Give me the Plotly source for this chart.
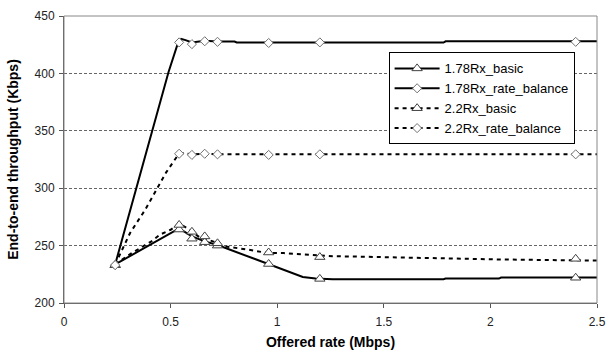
import plotly.graph_objects as go

# ---- data ----
series_names = ["1.78Rx_basic", "1.78Rx_rate_balance", "2.2Rx_basic", "2.2Rx_rate_balance"]

# marker points
marker_x = [0.24, 0.54, 0.60, 0.66, 0.72, 0.96, 1.20, 2.40]
m178_basic = [233, 264, 256, 253, 250, 234, 221, 222]
m178_rb = [233, 427, 425.5, 428, 427.5, 426.5, 427, 427.5]
m22_basic = [233, 268, 262, 258, 252, 244, 240, 238.5]
m22_rb = [233, 330, 329, 330, 329.5, 329, 329.5, 329.5]

# line curves
l178_basic_x = [0.24, 0.54, 0.60, 0.66, 0.72, 0.77, 0.95, 1.03, 1.12, 1.18, 1.26, 1.78, 1.79, 2.04, 2.05, 2.5]
l178_basic_y = [233.6, 265, 258, 253.7, 250.5, 247, 235, 229.3, 222.7, 221.3, 220.7, 220.7, 221.3, 221.3, 222.2, 222.2]

l178_rb_x = [0.24, 0.30, 0.36, 0.42, 0.49, 0.53, 0.55, 0.57, 0.60, 0.66, 0.72, 0.80, 0.81, 1.78, 1.79, 2.5]
l178_rb_y = [233.6, 274, 314, 354, 401, 424, 430, 429, 427, 428.4, 427.8, 427.8, 426.9, 426.9, 427.9, 427.9]

l22_basic_x = [0.24, 0.32, 0.41, 0.45, 0.50, 0.54, 0.58, 0.63, 0.72, 0.75, 0.86, 0.95, 1.03, 1.13, 1.26, 1.41, 1.72, 2.02, 2.33, 2.5]
l22_basic_y = [233.6, 243.7, 253.7, 259.5, 263.8, 269, 265, 258, 252.3, 249.4, 246.6, 243.7, 243.5, 242.2, 240.8, 240.3, 238.8, 238, 237.3, 237]

l22_rb_x = [0.24, 0.31, 0.38, 0.43, 0.48, 0.53, 0.56, 0.60, 0.66, 0.72, 0.96, 1.20, 2.5]
l22_rb_y = [233.6, 261, 281, 298, 314, 327.6, 330.5, 329.5, 330, 329.5, 329.3, 329.5, 329.5]

x_ticks = [0, 0.5, 1, 1.5, 2, 2.5]
y_ticks = [200, 250, 300, 350, 400, 450]

# ---- styling ----
FONT = "Liberation Sans, Arial, sans-serif"
dash22 = "4px,4px"
styles = [
    dict(dash="solid", symbol="triangle-up", msize=9, mcolor="#404040"),
    dict(dash="solid", symbol="diamond", msize=7, mcolor="#707070"),
    dict(dash=dash22, symbol="triangle-up", msize=9, mcolor="#404040"),
    dict(dash=dash22, symbol="diamond", msize=7, mcolor="#707070"),
]
lines = [(l178_basic_x, l178_basic_y), (l178_rb_x, l178_rb_y),
         (l22_basic_x, l22_basic_y), (l22_rb_x, l22_rb_y)]
marks = [m178_basic, m178_rb, m22_basic, m22_rb]

fig = go.Figure()
for name, st, (lx, ly) in zip(series_names, styles, lines):
    fig.add_trace(go.Scatter(x=lx, y=ly, mode="lines", showlegend=False,
                             line=dict(color="black", width=2, dash=st["dash"]),
                             hoverinfo="skip", cliponaxis=True))
for name, st, my in zip(series_names, styles, marks):
    fig.add_trace(go.Scatter(x=marker_x, y=my, mode="markers", showlegend=False,
                             marker=dict(symbol=st["symbol"], size=st["msize"], color="white",
                                         line=dict(color=st["mcolor"], width=1))))
for name, st in zip(series_names, styles):
    fig.add_trace(go.Scatter(x=[None], y=[None], mode="lines+markers", name=name,
                             line=dict(color="black", width=2, dash=st["dash"]),
                             marker=dict(symbol=st["symbol"], size=st["msize"], color="white",
                                         line=dict(color=st["mcolor"], width=1))))

fig.update_layout(
    width=615, height=356,
    margin=dict(l=64, r=9, t=14, b=52),
    paper_bgcolor="white", plot_bgcolor="white",
    font=dict(family=FONT, size=11, color="black"),
    showlegend=True,
    legend=dict(x=0.609, y=0.873, xanchor="left", yanchor="top",
                bgcolor="white", bordercolor="black", borderwidth=1,
                font=dict(family=FONT, size=13, color="black"),
                itemwidth=45, tracegroupgap=0),
    xaxis=dict(range=[0, 2.5], tickvals=x_ticks, ticks="outside", ticklen=4,
               tickcolor="#555", showline=True, linecolor="#555", linewidth=1,
               showgrid=False, zeroline=False, ticklabelstandoff=4,
               title=dict(text="<b>Offered rate (Mbps)</b>", font=dict(size=14), standoff=8),
               tickfont=dict(size=12, color="#222")),
    yaxis=dict(range=[200, 450], tickvals=y_ticks, ticks="outside", ticklen=4,
               tickcolor="#555", showline=True, linecolor="#555", linewidth=1,
               showgrid=True, gridcolor="#666", griddash="3px,2px", gridwidth=1,
               zeroline=False, ticklabelstandoff=2,
               title=dict(text="<b>End-to-end throughput (Kbps)</b>", font=dict(size=14), standoff=12),
               tickfont=dict(size=12, color="#222")),
    shapes=[dict(type="rect", xref="paper", yref="paper", x0=0, x1=1, y0=0, y1=1,
                 line=dict(color="#888", width=1), layer="above")],
)

fig.write_html("out.html")
